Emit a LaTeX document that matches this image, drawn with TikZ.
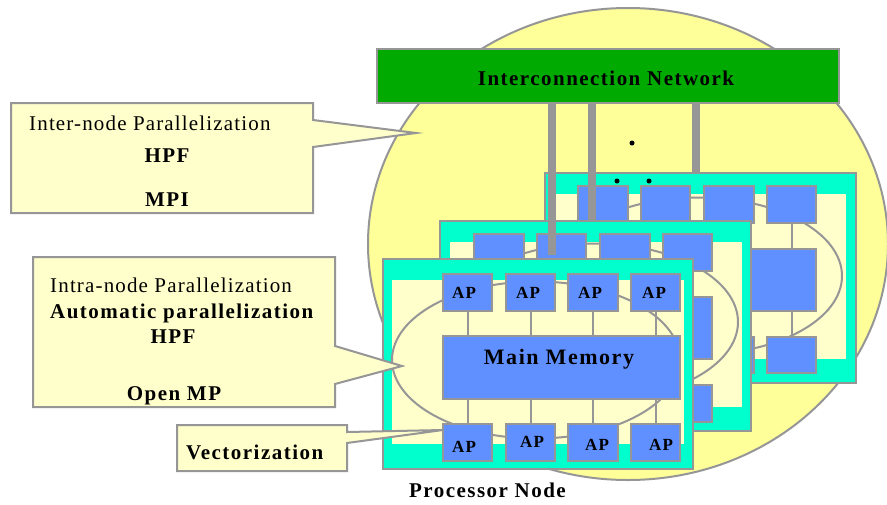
\documentclass[tikz,border=0pt]{standalone}
\usepackage{fontspec}
\setmainfont{Liberation Serif}
\newfontfamily\regsp[LetterSpace=5.5]{Liberation Serif}
\newfontfamily\boldsp[LetterSpace=7,BoldFont={Liberation Serif Bold}]{Liberation Serif Bold}
\usetikzlibrary{fit,shapes.geometric}
\definecolor{teal1}{HTML}{00FFCC}
\definecolor{blue1}{HTML}{6090FF}
\definecolor{sun}{HTML}{FFFF99}
\definecolor{pale}{HTML}{FFFFCC}
\definecolor{edge}{HTML}{969696}
\definecolor{netgreen}{HTML}{00AA00}
\tikzset{
  x=1pt,y=-1pt,
  line/.style={draw=edge,line width=2pt},
  boxfit/.style={line,inner sep=-1pt,outer sep=0pt},
  framebox/.style={boxfit,fill=teal1},
  innerbox/.style={fill=pale,inner sep=0pt,outer sep=0pt},
  blk/.style={boxfit,fill=blue1},
  orbit/.style={line,fill=pale},
  bar/.style={draw=edge,line width=8pt},
  callout/.style={line,fill=pale,line join=miter},
  reg/.style={font=\regsp\fontsize{21}{21}\selectfont,anchor=base west,inner sep=0pt},
  bold/.style={font=\boldsp\fontsize{21}{21}\selectfont,anchor=base,inner sep=0pt},
  boldw/.style={bold,anchor=base west},
  aplabel/.style={font=\boldsp\fontsize{17}{17}\selectfont,anchor=base,inner sep=0pt},
  dot/.style={fill=black,circle,inner sep=0pt,minimum size=5pt},
}
\begin{document}
\begin{tikzpicture}
\useasboundingbox (0,0) rectangle (887,504);
\fill[white] (0,0) rectangle (887,504);
\node[ellipse,line,fill=sun,inner sep=0pt,minimum width=520pt,minimum height=472pt] (cell) at (628,244) {};
\node[boxfit,fill=netgreen,fit={(376,48) (840,104)}] (net) {};
\node[bold] (nettext) at (606,85) {Interconnection Network};

\coordinate (p1) at (552,255);
\coordinate (p2) at (592,222);
\coordinate (p3) at (696,172);

% back node
\draw[bar] (p3 |- net.south) -- (p3);
\node[framebox,fit={(544,172) (857,384)}] (cf) {};
\node[innerbox,fit={(555,194) (846,359)}] (ci) {};
\node[orbit,ellipse,inner sep=0pt,minimum width=288pt,minimum height=157pt] (co) at (698,276) {};
\foreach \n/\xa/\xb in {1/577/629,2/640/691,3/703/755,4/766/817}{
  \node[blk,fit={(\xa,185) (\xb,224)}] (ct\n) {};
  \node[blk,fit={(\xa,336) (\xb,374)}] (cb\n) {};
}
\node[blk,fit={(577,248) (817,312)}] (cm) {};
\foreach \n in {1,2,3,4}{
  \draw[line] (ct\n.south) -- (ct\n.south |- cm.north);
  \draw[line] (cb\n.north) -- (cb\n.north |- cm.south);
}
\draw[bar] (p2 |- net.south) -- (p2);

% middle node
\node[framebox,fit={(439,220) (752,432)}] (bf) {};
\node[innerbox,fit={(450,242) (742,407)}] (bi) {};
\node[orbit,ellipse,inner sep=0pt,minimum width=288pt,minimum height=157pt] (bo) at (594,322) {};
\foreach \n/\xa/\xb in {1/473/525,2/536/587,3/599/651,4/662/713}{
  \node[blk,fit={(\xa,233) (\xb,272)}] (bt\n) {};
  \node[blk,fit={(\xa,384) (\xb,423)}] (bb\n) {};
}
\node[blk,fit={(473,296) (713,360)}] (bm) {};
\foreach \n in {1,2,3,4}{
  \draw[line] (bt\n.south) -- (bt\n.south |- bm.north);
  \draw[line] (bb\n.north) -- (bb\n.north |- bm.south);
}
\draw[bar] (p1 |- net.south) -- (p1);

% front node
\node[framebox,fit={(382,258) (694,470)}] (af) {};
\node[innerbox,fit={(392,280) (684,444)}] (ai) {};
\node[orbit,ellipse,inner sep=0pt,minimum width=288pt,minimum height=157pt] (ao) at (536,360) {};
\foreach \n/\xa/\xb in {1/442/493,2/505/556,3/567/619,4/630/681}{
  \node[blk,fit={(\xa,273) (\xb,312)}] (at\n) {};
  \node[blk,fit={(\xa,423) (\xb,462)}] (ab\n) {};
}
\node[blk,fit={(442,335) (681,400)}] (am) {};
\foreach \n in {1,2,3,4}{
  \draw[line] (at\n.south) -- (at\n.south |- am.north);
  \draw[line] (ab\n.north) -- (ab\n.north |- am.south);
}
\foreach \n/\x in {1/464,2/528,3/590,4/654}{
  \node[aplabel] (atl\n) at (\x,298) {AP};
}
\node[aplabel] (abl1) at (464,452) {AP};
\node[aplabel] (abl2) at (532,447) {AP};
\node[aplabel] (abl3) at (597,450) {AP};
\node[aplabel] (abl4) at (661,450) {AP};
\node[bold,font=\boldsp\fontsize{22}{22}\selectfont] (memtext) at (559,364) {Main Memory};

% dots
\node[dot] (d1) at (632,143) {};
\node[dot] (d2) at (617,181) {};
\node[dot] (d3) at (649,181) {};

% callouts
\coordinate (t1) at (416,133);
\coordinate (t2) at (402,366);
\coordinate (t3) at (443,430);
\draw[callout] (11,103) -- (313,103) -- (313,120) -- (t1) -- (313,147) -- (313,213) -- (11,213) -- cycle;
\draw[callout] (33,257) -- (335,257) -- (335,346) -- (t2) -- (335,384) -- (335,407) -- (33,407) -- cycle;
\draw[callout] (177,425) -- (347,425) -- (347,432) -- (t3) -- (347,443) -- (347,471) -- (177,471) -- cycle;

\node[reg] (l1) at (29,130) {Inter-node Parallelization};
\node[bold] (l2) at (167,162) {HPF};
\node[bold] (l3) at (167,206) {MPI};
\node[reg] (l4) at (50,292) {Intra-node Parallelization};
\node[boldw] (l5) at (50,318) {Automatic parallelization};
\node[bold] (l6) at (173,343) {HPF};
\node[bold] (l7) at (174,400) {Open MP};
\node[boldw] (l8) at (186,459) {Vectorization};
\node[boldw] (l9) at (409,497) {Processor Node};
\end{tikzpicture}
\end{document}
